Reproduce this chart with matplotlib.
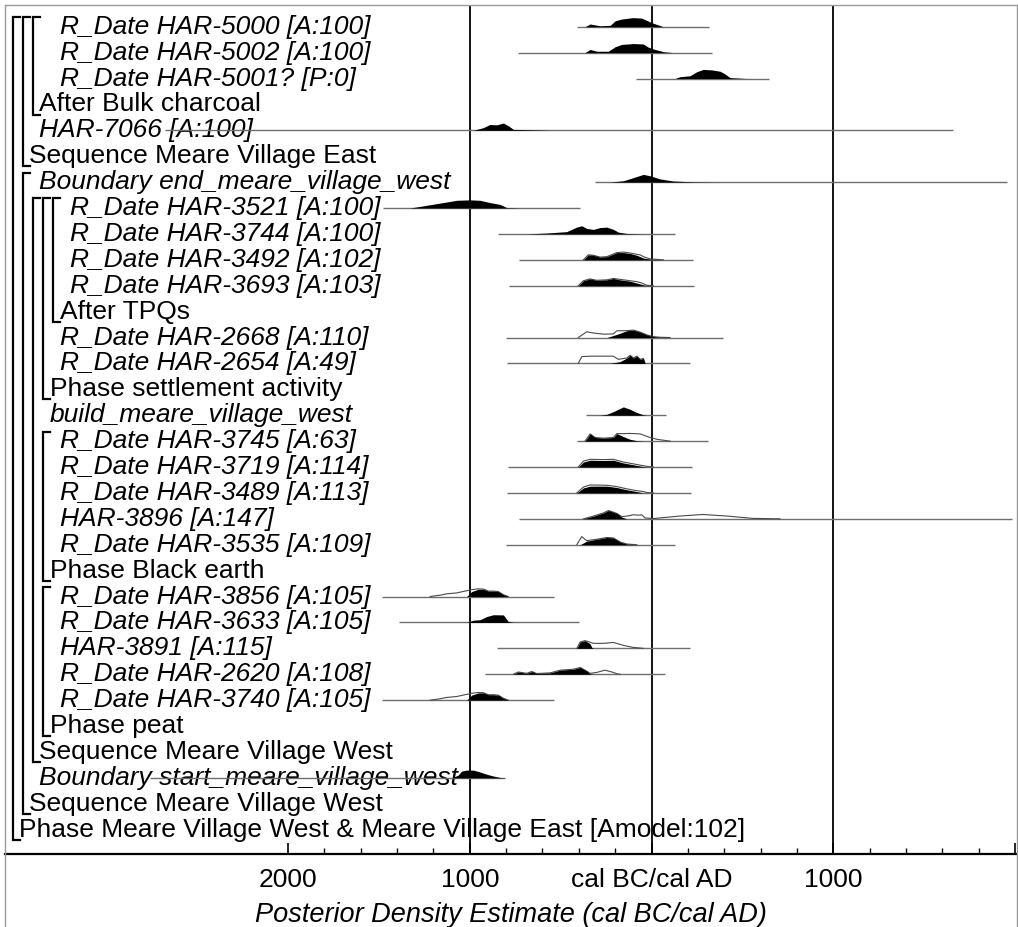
import matplotlib
matplotlib.use("Agg")
import matplotlib.pyplot as plt
import matplotlib.transforms as mtransforms
from matplotlib.lines import Line2D

# =======================
# DATA (years BC negative)
# =======================
LABELS = [
    "R_Date HAR-5000 [A:100]",
    "R_Date HAR-5002 [A:100]",
    "R_Date HAR-5001? [P:0]",
    "After Bulk charcoal",
    "HAR-7066 [A:100]",
    "Sequence Meare Village East",
    "Boundary end_meare_village_west",
    "R_Date HAR-3521 [A:100]",
    "R_Date HAR-3744 [A:100]",
    "R_Date HAR-3492 [A:102]",
    "R_Date HAR-3693 [A:103]",
    "After TPQs",
    "R_Date HAR-2668 [A:110]",
    "R_Date HAR-2654 [A:49]",
    "Phase settlement activity",
    "build_meare_village_west",
    "R_Date HAR-3745 [A:63]",
    "R_Date HAR-3719 [A:114]",
    "R_Date HAR-3489 [A:113]",
    "HAR-3896 [A:147]",
    "R_Date HAR-3535 [A:109]",
    "Phase Black earth",
    "R_Date HAR-3856 [A:105]",
    "R_Date HAR-3633 [A:105]",
    "HAR-3891 [A:115]",
    "R_Date HAR-2620 [A:108]",
    "R_Date HAR-3740 [A:105]",
    "Phase peat",
    "Sequence Meare Village West",
    "Boundary start_meare_village_west",
    "Sequence Meare Village West",
    "Phase Meare Village West & Meare Village East [Amodel:102]",
]
# nesting level of each row in the model
DEPTH = [4, 4, 4, 2, 2, 1, 2, 5, 5, 5, 5, 4, 4, 4, 3, 3, 4, 4, 4, 4, 4, 3,
         4, 4, 4, 4, 4, 3, 2, 2, 1, 0]

# full calculated range of each distribution (start, end)
RANGES = {
    1: (-411, 315), 2: (-733, 335), 3: (-85, 645), 5: (-2677, 1659),
    7: (-311, 1958), 8: (-1477, -393), 9: (-843, 129), 10: (-727, 230),
    11: (-782, 236), 13: (-800, 395), 14: (-797, 212), 16: (-360, 78),
    17: (-411, 313), 18: (-791, 221), 19: (-797, 216), 20: (-727, 1982),
    21: (-802, 129), 23: (-1484, -535), 24: (-1387, -397), 25: (-852, 212),
    26: (-918, 76), 27: (-1484, -535), 30: (-2759, -806),
}

# posterior (filled), (year, relative height)
HAR_5000_POST = [(-366, 0), (-338, 0.3), (-283, 0.1), (-228, 0.15), (-200, 0.65),
                 (-164, 0.85), (-102, 1.0), (-54, 0.95), (-27, 0.7), (0, 0.45),
                 (36, 0.2), (64, 0)]
HAR_5002_POST = [(-366, 0), (-338, 0.35), (-302, 0.15), (-238, 0.15), (-200, 0.65),
                 (-164, 0.9), (-100, 1.0), (-45, 0.95), (-18, 0.6), (10, 0.4),
                 (65, 0.1), (118, 0)]
HAR_5001_POST = [(129, 0), (157, 0.2), (211, 0.3), (249, 0.75), (285, 1.0),
                 (331, 0.95), (377, 0.8), (404, 0.5), (432, 0.1), (524, 0)]
HAR_7066_POST = [(-980, 0), (-925, 0.3), (-889, 0.65), (-852, 0.6), (-815, 0.8),
                 (-788, 0.5), (-760, 0.1), (-650, 0.05), (-558, 0)]
END_WEST_POST = [(-228, 0), (-155, 0.15), (-100, 0.5), (-45, 0.85), (-8, 0.7),
                 (47, 0.35), (120, 0.12), (230, 0.03), (359, 0)]
HAR_3521_POST = [(-1329, 0), (-1237, 0.3), (-1146, 0.6), (-1072, 0.85), (-999, 0.9),
                 (-944, 0.85), (-889, 0.6), (-834, 0.4), (-797, 0.05), (-724, 0)]
HAR_3744_POST = [(-687, 0), (-577, 0.1), (-467, 0.25), (-412, 0.75), (-384, 0.9),
                 (-357, 0.6), (-320, 0.5), (-283, 0.7), (-246, 0.75), (-210, 0.5),
                 (-183, 0.2), (-136, 0.05), (-45, 0)]
HAR_3492_POST = [(-375, 0), (-348, 0.55), (-320, 0.5), (-283, 0.3), (-246, 0.35),
                 (-191, 0.8), (-155, 0.8), (-118, 0.7), (-81, 0.5), (-45, 0.2),
                 (0, 0.05), (65, 0)]
HAR_3492_PRIOR = [(-375, 0), (-348, 0.55), (-320, 0.5), (-283, 0.3), (-246, 0.35),
                  (-191, 0.8), (-155, 0.85), (-118, 0.75), (-81, 0.6), (-63, 0.55),
                  (-45, 0.35), (-8, 0.1), (65, 0)]
HAR_3693_POST = [(-403, 0), (-375, 0.55), (-338, 0.75), (-302, 0.6), (-246, 0.65),
                 (-210, 0.8), (-173, 0.65), (-118, 0.5), (-63, 0.2), (-36, 0.05), (10, 0)]
HAR_3693_PRIOR = [(-403, 0), (-375, 0.55), (-338, 0.75), (-302, 0.6), (-246, 0.65),
                  (-210, 0.8), (-173, 0.7), (-118, 0.55), (-81, 0.45), (-54, 0.3),
                  (-27, 0.05), (10, 0)]
HAR_2668_POST = [(-246, 0), (-191, 0.35), (-136, 0.75), (-100, 0.82), (-63, 0.6),
                 (-27, 0.3), (10, 0.1), (47, 0.03), (102, 0)]
HAR_2668_PRIOR = [(-403, 0), (-357, 0.63), (-320, 0.5), (-265, 0.37), (-210, 0.4),
                  (-191, 0.74), (-136, 0.76), (-100, 0.82), (-63, 0.6), (-27, 0.3),
                  (10, 0.1), (47, 0.03), (102, 0)]
HAR_2654_POST = [(-228, 0), (-173, 0.2), (-136, 0.6), (-118, 0.9), (-100, 0.6),
                 (-81, 0.8), (-63, 0.45), (-45, 0.55), (-36, 0)]
HAR_2654_PRIOR = [(-403, 0), (-384, 0.75), (-338, 0.8), (-283, 0.8), (-210, 0.8),
                  (-183, 0.45), (-136, 0.6), (-118, 0.9), (-100, 0.6), (-81, 0.8),
                  (-63, 0.45), (-45, 0.55), (-36, 0)]
BUILD_WEST_POST = [(-283, 0), (-246, 0.1), (-210, 0.4), (-155, 0.92), (-118, 0.65),
                   (-81, 0.3), (-45, 0.05), (-27, 0)]
HAR_3745_POST = [(-366, 0), (-338, 0.8), (-311, 0.4), (-265, 0.33), (-210, 0.4),
                 (-191, 0.83), (-155, 0.5), (-118, 0.2), (-81, 0.05), (-45, 0)]
HAR_3745_PRIOR = [(-366, 0), (-338, 0.8), (-311, 0.4), (-265, 0.33), (-210, 0.4),
                  (-191, 0.83), (-155, 0.83), (-118, 0.85), (-63, 0.8), (-36, 0.6),
                  (-8, 0.4), (30, 0.2), (65, 0.1), (102, 0)]
HAR_3719_POST = [(-403, 0), (-375, 0.55), (-338, 0.75), (-265, 0.72), (-210, 0.75),
                 (-155, 0.45), (-100, 0.25), (-54, 0.08), (-27, 0)]
HAR_3719_PRIOR = [(-403, 0), (-375, 0.65), (-338, 0.85), (-265, 0.82), (-210, 0.85),
                  (-155, 0.55), (-100, 0.35), (-54, 0.18), (-27, 0.08), (10, 0)]
HAR_3489_POST = [(-411, 0), (-375, 0.55), (-338, 0.75), (-246, 0.75), (-191, 0.6),
                 (-136, 0.35), (-81, 0.15), (-45, 0)]
HAR_3489_PRIOR = [(-411, 0), (-375, 0.65), (-338, 0.88), (-246, 0.85), (-191, 0.7),
                  (-136, 0.45), (-81, 0.25), (-45, 0.15), (-27, 0.05), (10, 0)]
HAR_3896_POST = [(-375, 0), (-320, 0.3), (-265, 0.65), (-237, 0.92), (-191, 0.6),
                 (-164, 0.2), (-136, 0)]
HAR_3896_PRIOR = [(-375, 0), (-320, 0.3), (-265, 0.65), (-237, 0.92), (-191, 0.6),
                  (-164, 0.25), (-136, 0.3), (-100, 0.45), (-72, 0.4), (-54, 0.45),
                  (-36, 0.1), (10, 0.03), (150, 0.3), (283, 0.48), (420, 0.3),
                  (557, 0.05), (707, 0)]
HAR_3535_POST = [(-393, 0), (-357, 0.4), (-302, 0.6), (-246, 0.8), (-210, 0.75),
                 (-173, 0.3), (-136, 0.08), (-81, 0)]
HAR_3535_PRIOR = [(-411, 0), (-384, 0.9), (-357, 0.45), (-302, 0.6), (-246, 0.8),
                  (-210, 0.75), (-173, 0.3), (-136, 0.08), (-81, 0)]
HAR_3856_POST = [(-1017, 0), (-990, 0.55), (-953, 0.8), (-925, 0.8), (-898, 0.6),
                 (-870, 0.6), (-843, 0.55), (-815, 0.2), (-788, 0)]
HAR_3856_PRIOR = [(-1218, 0), (-1164, 0.15), (-1127, 0.3), (-1072, 0.4), (-1026, 0.6),
                  (-990, 0.75), (-953, 0.85), (-925, 0.82), (-898, 0.6), (-870, 0.6),
                  (-843, 0.55), (-815, 0.2), (-788, 0)]
HAR_3633_POST = [(-1017, 0), (-980, 0.25), (-944, 0.3), (-907, 0.65), (-870, 0.85),
                 (-815, 0.83), (-788, 0.1), (-760, 0)]
HAR_3891_POST = [(-411, 0), (-393, 0.7), (-366, 0.85), (-338, 0.5), (-329, 0.1), (-320, 0)]
HAR_3891_PRIOR = [(-411, 0), (-393, 0.7), (-366, 0.85), (-320, 0.55), (-265, 0.55),
                  (-210, 0.65), (-155, 0.33), (-100, 0.1), (-45, 0)]
HAR_2620_POST = [(-760, 0), (-733, 0.25), (-687, 0.1), (-659, 0.3), (-632, 0.08),
                 (-558, 0.15), (-503, 0.45), (-430, 0.55), (-393, 0.75), (-357, 0.35),
                 (-338, 0.05), (-320, 0)]
HAR_2620_PRIOR = [(-760, 0), (-733, 0.25), (-687, 0.1), (-659, 0.3), (-632, 0.08),
                  (-558, 0.15), (-503, 0.45), (-430, 0.55), (-393, 0.75), (-357, 0.35),
                  (-338, 0.1), (-302, 0.2), (-256, 0.45), (-210, 0.2), (-191, 0.05),
                  (-173, 0)]
HAR_3740_POST = [(-1017, 0), (-990, 0.55), (-953, 0.8), (-925, 0.8), (-898, 0.6),
                 (-870, 0.6), (-843, 0.55), (-815, 0.2), (-788, 0)]
HAR_3740_PRIOR = [(-1218, 0), (-1164, 0.15), (-1127, 0.3), (-1072, 0.4), (-1026, 0.6),
                  (-990, 0.75), (-953, 0.85), (-925, 0.82), (-898, 0.6), (-870, 0.6),
                  (-843, 0.55), (-815, 0.2), (-788, 0)]
START_WEST_POST = [(-1100, 0), (-1064, 0.3), (-1045, 0.75), (-1017, 0.85), (-980, 0.85),
                   (-944, 0.65), (-907, 0.4), (-870, 0.2), (-834, 0.05), (-806, 0)]

POSTERIORS = {
    1: HAR_5000_POST, 2: HAR_5002_POST, 3: HAR_5001_POST, 5: HAR_7066_POST,
    7: END_WEST_POST, 8: HAR_3521_POST, 9: HAR_3744_POST, 10: HAR_3492_POST,
    11: HAR_3693_POST, 13: HAR_2668_POST, 14: HAR_2654_POST, 16: BUILD_WEST_POST,
    17: HAR_3745_POST, 18: HAR_3719_POST, 19: HAR_3489_POST, 20: HAR_3896_POST,
    21: HAR_3535_POST, 23: HAR_3856_POST, 24: HAR_3633_POST, 25: HAR_3891_POST,
    26: HAR_2620_POST, 27: HAR_3740_POST, 30: START_WEST_POST,
}
PRIORS = {
    10: HAR_3492_PRIOR, 11: HAR_3693_PRIOR, 13: HAR_2668_PRIOR, 14: HAR_2654_PRIOR,
    17: HAR_3745_PRIOR, 18: HAR_3719_PRIOR, 19: HAR_3489_PRIOR, 20: HAR_3896_PRIOR,
    21: HAR_3535_PRIOR, 23: HAR_3856_PRIOR, 25: HAR_3891_PRIOR, 26: HAR_2620_PRIOR,
    27: HAR_3740_PRIOR,
}

TICK_YEARS = [-2000, -1000, 0, 1000, 2000]
TICK_LABELS = ["2000", "1000", "cal BC/cal AD", "1000", ""]
GRID_YEARS = [-1000, 0, 1000]

# =======================
# LAYOUT
# =======================
W, H = 1018, 927
PEAK = 0.35          # row units for a relative height of 1
FONT = "Liberation Sans"

fig = plt.figure(figsize=(W / 100, H / 100), dpi=100)
ax = fig.add_axes([5 / W, (H - 854) / H, 1011 / W, 849 / H])
ax.set_xlim(-3557, 2005)
ax.set_ylim(32.94, 0.162)

for s in ["top", "left", "right"]:
    ax.spines[s].set_visible(False)
ax.spines["bottom"].set_linewidth(1.6)
ax.set_yticks([])

ax.set_xticks(TICK_YEARS)
ax.set_xticklabels(TICK_LABELS, fontfamily=FONT, fontsize=19)
ax.set_xticks([y for y in range(-1800, 2000, 200) if y % 1000], minor=True)
ax.tick_params(axis="x", which="major", direction="in", length=8, width=1.2, pad=10)
ax.tick_params(axis="x", which="minor", direction="in", length=4, width=1.0)
ax.set_xlabel("Posterior Density Estimate (cal BC/cal AD)", fontfamily=FONT,
              fontsize=19.5, style="italic", labelpad=7)

for yr in GRID_YEARS:
    ax.axvline(yr, color="black", lw=1.3, zorder=1)

# grey frame round the whole picture
for xs, ys in [([4.5, 4.5], [0, H - 5]), ([4.5, 1017], [H - 5, H - 5]),
               ([1017, 1017], [0, H - 5])]:
    fig.add_artist(Line2D([x / W for x in xs], [y / H for y in ys],
                          color="#9a9a9a", lw=1.0))

mixed = mtransforms.blended_transform_factory(fig.transFigure, ax.transData)

# labels
for i, (label, d) in enumerate(zip(LABELS, DEPTH), start=1):
    italic = not label.startswith(("Phase", "Sequence", "After"))
    ax.text((19 + 10.2 * d) / W, i + 0.27, label, transform=mixed,
            fontfamily=FONT, fontsize=19, style="italic" if italic else "normal",
            va="baseline", ha="left", zorder=2)

# brackets: a group row closes the rows above it that sit deeper
for i, d in enumerate(DEPTH, start=1):
    label = LABELS[i - 1]
    if not label.startswith(("Phase", "Sequence", "After")):
        continue
    j = i - 1
    while j >= 1 and DEPTH[j - 1] > d:
        j -= 1
    top = j + 1 - 0.37
    bot = i + 0.39
    bx = (13 + 10 * d) / W
    hx = (20 + 10 * d) / W
    ax.plot([hx, bx, bx, hx], [top, top, bot, bot], color="black", lw=1.6,
            transform=mixed, solid_joinstyle="miter", zorder=3, clip_on=False)

# distributions
for row, (x0, x1) in RANGES.items():
    ax.hlines(row, x0, x1, color="#6e6e6e", lw=1.0, zorder=3)
    if row in PRIORS:
        px = [p[0] for p in PRIORS[row]]
        ph = [row - p[1] * PEAK for p in PRIORS[row]]
        ax.plot(px, ph, color="#4a4a4a", lw=0.8, zorder=4)
    post = POSTERIORS[row]
    fx = [p[0] for p in post]
    fh = [row - p[1] * PEAK for p in post]
    ax.fill_between(fx, row, fh, color="black", lw=0, zorder=5)

fig.savefig("out.png", dpi=100)
